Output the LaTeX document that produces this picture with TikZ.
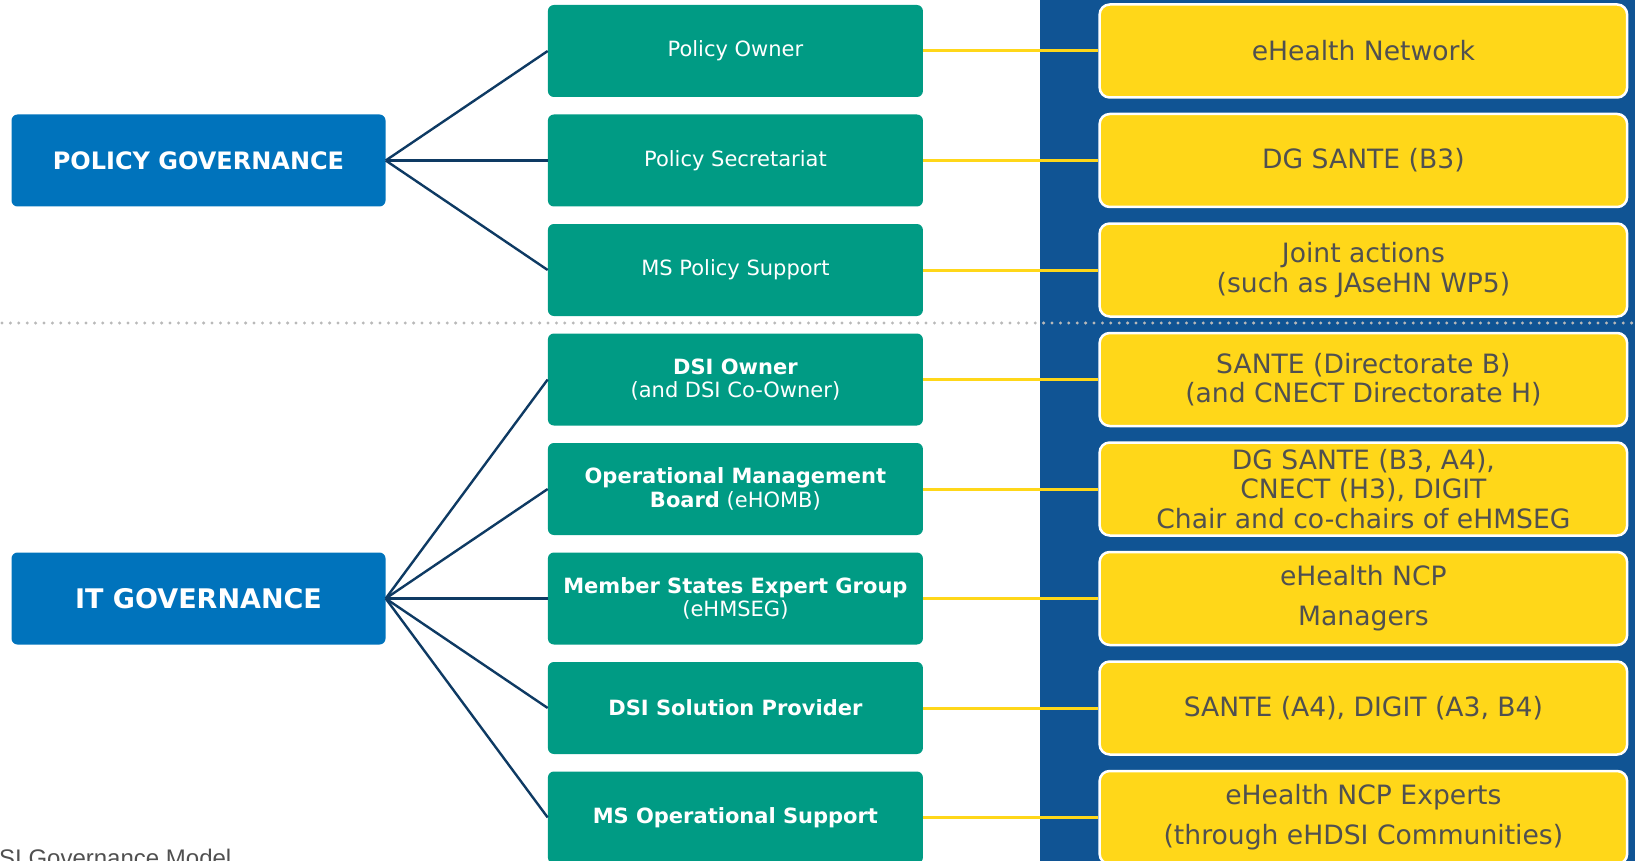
\documentclass[tikz,border=0pt]{standalone}
\usepackage{fontspec}
\setmainfont{DejaVu Sans}
\newfontfamily\captionfont{Liberation Sans}
\usetikzlibrary{positioning}
\definecolor{govblue}{RGB}{0,115,188}
\definecolor{rolegreen}{RGB}{0,155,132}
\definecolor{bandblue}{RGB}{16,84,148}
\definecolor{bodyyellow}{RGB}{255,215,25}
\definecolor{linknavy}{RGB}{14,58,99}
\definecolor{bodygrey}{RGB}{80,80,80}
\definecolor{dotgrey}{RGB}{185,185,185}
\tikzset{
    govbox/.style={
        fill=govblue, text=white, rounded corners=6pt, inner sep=0pt,
        minimum width=374pt, minimum height=92pt,
        font=\bfseries\fontsize{24}{28}\selectfont,
    },
    rolebox/.style={
        fill=rolegreen, text=white, rounded corners=6pt, inner sep=0pt,
        minimum width=375pt, minimum height=92pt, align=center,
        font=\fontsize{21}{23.5}\selectfont,
    },
    bodybox/.style={
        fill=bodyyellow, draw=white, line width=2.5pt, text=bodygrey,
        rounded corners=10pt, inner sep=0pt,
        minimum width=527.5pt, minimum height=93pt, align=center,
        font=\fontsize{26.6}{29.3}\selectfont,
    },
    govlink/.style={draw=linknavy, line width=2.4pt},
    bodylink/.style={draw=bodyyellow, line width=3pt},
}

\begin{document}
\begin{tikzpicture}[x=1pt, y=-1pt]
    \clip (0,0) rectangle (1635,861);
    \fill[bandblue] (1039.6,0) rectangle (1635,861);
    \draw[dotgrey, line width=3.3pt, line cap=round, dash pattern=on 0pt off 8.4pt] (2,323) -- (1635,323);

    % governance levels
    \node (pg) at (198.5,160.5) [govbox] {POLICY GOVERNANCE};
    \node (itg) at (198.5,598.5) [govbox, font=\bfseries\fontsize{27}{30}\selectfont] {IT GOVERNANCE};

    % roles
    \node (r1) at (735.4,51) [rolebox] {Policy Owner};
    \node (r2) at (735.4,160.5) [rolebox] {Policy Secretariat};
    \node (r3) at (735.4,270) [rolebox] {MS Policy Support};
    \node (r4) at (735.4,379.5) [rolebox] {\textbf{DSI Owner}\\(and DSI Co-Owner)};
    \node (r5) at (735.4,489) [rolebox] {\textbf{Operational Management}\\\textbf{Board} (eHOMB)};
    \node (r6) at (735.4,598.5) [rolebox] {\textbf{Member States Expert Group}\\(eHMSEG)};
    \node (r7) at (735.4,708) [rolebox] {\textbf{DSI Solution Provider}};
    \node (r8) at (735.4,817.5) [rolebox] {\textbf{MS Operational Support}};

    % bodies
    \node (b1) at (1363.4,51) [bodybox] {eHealth Network};
    \node (b2) at (1363.4,160.5) [bodybox] {DG SANTE (B3)};
    \node (b3) at (1363.4,270) [bodybox] {Joint actions\\(such as JAseHN WP5)};
    \node (b4) at (1363.4,379.5) [bodybox] {SANTE (Directorate B)\\(and CNECT Directorate H)};
    \node (b5) at (1363.4,489) [bodybox] {DG SANTE (B3, A4),\\CNECT (H3), DIGIT\\Chair and co-chairs of eHMSEG};
    \node (b6) at (1363.4,598.5) [bodybox] {eHealth NCP\\[10.4pt]Managers};
    \node (b7) at (1363.4,708) [bodybox] {SANTE (A4), DIGIT (A3, B4)};
    \node (b8) at (1363.4,817.5) [bodybox] {eHealth NCP Experts\\[10.4pt](through eHDSI Communities)};

    \foreach \r in {1,2,3}
        \draw[govlink] (pg.east) -- (r\r.west);
    \foreach \r in {4,...,8}
        \draw[govlink] (itg.east) -- (r\r.west);
    \foreach \r in {1,...,8}
        \draw[bodylink] (r\r.east) -- (b\r.west);

    \node (cap) at (-1,866.5) [anchor=base west, inner sep=0pt, text=bodygrey, font=\captionfont\fontsize{24}{27}\selectfont] {SI Governance Model};
\end{tikzpicture}
\end{document}
